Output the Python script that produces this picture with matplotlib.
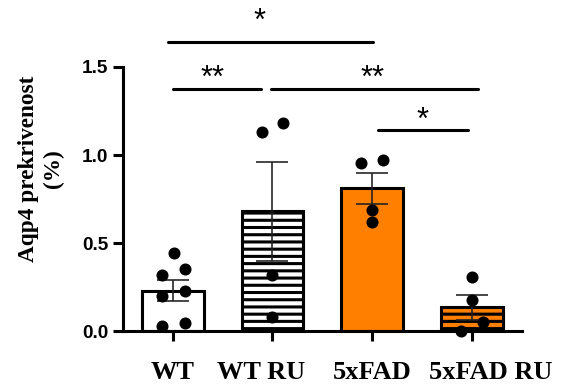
import matplotlib
matplotlib.use("Agg")
import matplotlib.pyplot as plt

# group names and values
groups = ["WT", "WT RU", "5xFAD", "5xFAD RU"]
means = [0.23, 0.68, 0.81, 0.135]
sems = [0.06, 0.28, 0.09, 0.07]

wt_pts = [0.445, 0.32, 0.355, 0.20, 0.227, 0.03, 0.047]
wtru_pts = [1.13, 1.18, 0.318, 0.078]
fad_pts = [0.953, 0.97, 0.69, 0.62]
fadru_pts = [0.31, 0.176, 0.053, 0.0]
points = [wt_pts, wtru_pts, fad_pts, fadru_pts]

# horizontal scatter of the dots inside each bar
jitter = [
    [0.01, -0.11, 0.12, -0.11, 0.12, -0.11, 0.12],
    [-0.10, 0.11, 0.0, 0.0],
    [-0.11, 0.11, 0.0, 0.0],
    [0.0, 0.0, 0.11, -0.11],
]
# the category labels are not exactly centred under the bars
label_shift = [0.0, -0.11, 0.0, 0.19]

face = ["white", "white", "#FF8000", "#FF8000"]
hatches = [None, "---", None, "---"]

plt.rcParams["hatch.linewidth"] = 1.7
plt.rcParams["hatch.color"] = "black"

dpi = 130
fig = plt.figure(figsize=(561 / dpi, 385 / dpi), dpi=dpi)
ax = fig.add_axes([0.219, 0.140, 0.711, 0.686])

x = list(range(len(groups)))
for i in x:
    ax.bar(i, means[i], width=0.62, color=face[i], edgecolor="black",
           linewidth=1.7, hatch=hatches[i], zorder=2)
ax.errorbar(x, means, yerr=sems, fmt="none", ecolor="#222222",
            elinewidth=0.9, capsize=9, capthick=0.9, zorder=3)
for i in x:
    xs = [i + j for j in jitter[i]]
    ax.scatter(xs, points[i], s=32, color="black", zorder=4, clip_on=False)

ax.set_xlim(-0.5, 3.5)
ax.set_ylim(0, 1.5)
ax.set_yticks([0, 0.5, 1.0, 1.5])
ax.set_yticklabels(["0.0", "0.5", "1.0", "1.5"], fontfamily="Liberation Sans",
                   fontweight="bold", fontsize=10.5)
ax.set_xticks(x)
ax.set_xticklabels([])
for i in x:
    ax.text(i + label_shift[i], -0.112, groups[i], transform=ax.get_xaxis_transform(),
            ha="center", va="top", fontfamily="Liberation Serif",
            fontweight="bold", fontsize=14.6)
ax.tick_params(axis="both", width=1.7, length=5.5)
ax.tick_params(axis="y", pad=2.5)

for s in ["top", "right"]:
    ax.spines[s].set_visible(False)
for s in ["left", "bottom"]:
    ax.spines[s].set_linewidth(1.7)

ax.set_ylabel("Aqp4 prekrivenost\n(%)", fontfamily="Liberation Serif",
              fontweight="bold", fontsize=12.9)
ax.yaxis.set_label_coords(-0.148, 0.615)

# significance bars
sig = [
    (-0.05, 2.01, 1.64, 0.87, 1.71, "*"),
    (0.0, 0.89, 1.373, 0.40, 1.385, "**"),
    (0.99, 3.06, 1.373, 2.0, 1.385, "**"),
    (2.06, 2.96, 1.142, 2.5, 1.147, "*"),
]
for x0, x1, y, tx, ty, label in sig:
    ax.plot([x0, x1], [y, y], color="black", linewidth=1.7,
            solid_capstyle="round", clip_on=False)
    ax.text(tx, ty, label, ha="center", va="baseline", fontsize=17,
            fontfamily="Liberation Sans", clip_on=False)

fig.savefig("out.png", dpi=dpi)
